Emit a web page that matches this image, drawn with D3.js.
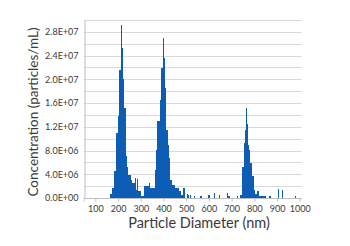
<!DOCTYPE html>
<html>
<head>
<meta charset="utf-8">
<script src="https://cdn.jsdelivr.net/npm/d3@7"></script>
<style>
  body { margin: 0; background: #fff; }
  svg text { font-family: "Lato", "DejaVu Sans", sans-serif; fill: #3a3a3a; }
</style>
</head>
<body>
<div id="chart"></div>
<script>
// bin left edges (nm), 5 nm wide
var binStart = [165, 170, 175, 180, 185, 190, 195, 200, 205, 210, 215, 220, 225, 230, 235,
  240, 245, 250, 255, 260, 265, 270, 275, 280, 285, 290, 295, 300, 305, 310,
  315, 320, 325, 330, 335, 340, 345, 350, 355, 360, 365, 370, 375, 380, 385,
  390, 395, 400, 405, 410, 415, 420, 425, 430, 435, 440, 445, 450, 455, 460,
  465, 470, 475, 480, 485, 490, 505, 510, 520, 535, 565, 600, 625, 645, 680,
  685, 690, 725, 740, 745, 750, 755, 760, 765, 770, 775, 780, 785, 790, 795,
  800, 805, 810, 815, 820, 825, 830, 835, 840, 845, 850, 865, 870, 905, 925, 980];
// concentration, in millions of particles/mL
var conc = [0.6, 0.6, 1.7, 1.7, 4.5, 4.5, 11, 13.8, 21.6, 21.6, 29.2, 25.3, 20, 15.2, 7.0,
  5.3, 3.9, 3.9, 3.9, 3.1, 2.5, 2.5, 3.4, 1.4, 3.2, 1.1, 1.1, 1.1, 0.3, 0.3,
  2.1, 2.1, 2.1, 2.1, 2.1, 2.5, 1.7, 1.7, 1.7, 1.7, 4.8, 8.1, 12.9, 12.9, 16.6,
  21.9, 21.9, 27, 23.6, 18.5, 11.5, 9, 6.7, 3.1, 3.1, 2.2, 2.2, 2.2, 1.7, 1.7,
  1.7, 1.1, 1.1, 0.5, 0.5, 1.7, 0.6, 0.5, 0.5, 0.4, 0.4, 0.5, 0.9, 0.5, 0.9,
  0.3, 0.3, 0.3, 0.5, 0.5, 5.3, 9.3, 11.5, 15.2, 12.4, 9.0, 8.1, 5.9, 3.7, 3.7,
  1.4, 0.7, 0.7, 1.1, 1.1, 0.4, 0.4, 0.4, 0.4, 0.4, 0.4, 0.4, 0.4, 1.5, 1.4, 0.3];
var binWidth = 5;
var xTicks = [100, 200, 300, 400, 500, 600, 700, 800, 900, 1000];
var yTicks = [0, 4e6, 8e6, 1.2e7, 1.6e7, 2.0e7, 2.4e7, 2.8e7];
var yGrid = d3.range(0, 3.0e7 + 1, 2e6);

var data = binStart.map(function (d, i) {
  return { x: d, v: conc[i] * 1e6 };
});

var svgWidth = 350, svgHeight = 246;
var svg = d3.select("#chart").append("svg")
  .attr("width", svgWidth)
  .attr("height", svgHeight);

var x = d3.scaleLinear().domain([50, 1010]).range([84, 302]);
var y = d3.scaleLinear().domain([0, 3.0e7]).range([198, 20]);

// gridlines
svg.append("g").selectAll("line")
  .data(yGrid)
  .enter()
  .append("line")
  .attr("x1", 84).attr("x2", 302)
  .attr("y1", function (d) { return Math.round(y(d)) + 0.5; })
  .attr("y2", function (d) { return Math.round(y(d)) + 0.5; })
  .attr("stroke", "#d9d9d9")
  .attr("stroke-width", 1);

// bars snapped to whole pixels so adjacent bins join without seams
svg.append("g").selectAll("rect")
  .data(data)
  .enter()
  .append("rect")
  .attr("shape-rendering", "crispEdges")
  .attr("x", function (d) { return Math.floor(x(d.x)); })
  .attr("width", function (d) { return Math.floor(x(d.x + binWidth)) - Math.floor(x(d.x)); })
  .attr("y", function (d) { return Math.round(y(d.v)); })
  .attr("height", function (d) { return Math.round(y(0)) - Math.round(y(d.v)); })
  .attr("fill", "#0c5db3");

// y axis
var fmt = function (d) {
  var e = d3.format(".1e")(d).toUpperCase();
  var parts = e.split("E");
  var exp = +parts[1];
  var sign = exp < 0 ? "-" : "+";
  var ee = Math.abs(exp);
  return parts[0] + "E" + sign + (ee < 10 ? "0" : "") + ee;
};
var yAxis = svg.append("g")
  .attr("transform", "translate(84.5,0)")
  .call(d3.axisLeft(y).tickValues(yTicks).tickSize(0).tickPadding(6).tickFormat(fmt));
yAxis.select(".domain").attr("stroke", "#bfbfbf");
yAxis.selectAll("text").style("font-size", "9px");

// x axis
var xAxis = svg.append("g")
  .attr("transform", "translate(0,198.5)")
  .call(d3.axisBottom(x).tickValues(xTicks).tickFormat(d3.format("d"))
    .tickSize(3).tickSizeOuter(0).tickPadding(4));
xAxis.select(".domain").attr("stroke", "#bfbfbf").attr("d", "M84,0V3M84,0H302");
xAxis.selectAll(".tick line").attr("stroke", "#bfbfbf");
xAxis.selectAll("text").style("font-size", "9px");

// axis titles
svg.append("text")
  .attr("transform", "rotate(-90)")
  .attr("x", -112)
  .attr("y", 38)
  .attr("text-anchor", "middle")
  .style("font-size", "13.5px")
  .text("Concentration (particles/mL)");

svg.append("text")
  .attr("x", 199)
  .attr("y", 228)
  .attr("text-anchor", "middle")
  .style("font-size", "14.5px")
  .text("Particle Diameter (nm)");
</script>
</body>
</html>
